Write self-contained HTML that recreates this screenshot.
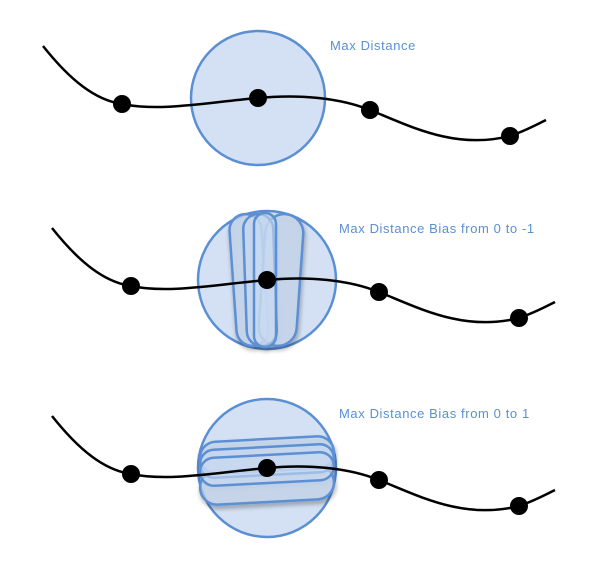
<!DOCTYPE html>
<html><head><style>
html,body{margin:0;padding:0;background:#fff;}
svg{display:block}
text{font-family:"Liberation Sans",sans-serif;font-size:13px;letter-spacing:0.6px;fill:#5b8fd4}
</style></head><body>
<svg width="604" height="567" viewBox="0 0 604 567">
<defs>
<filter id="sh" x="-30%" y="-30%" width="160%" height="160%"><feDropShadow dx="1" dy="3" stdDeviation="2" flood-color="#000" flood-opacity="0.35"/></filter>
<g id="curve">
<path d="M43,46 C70,80 95,100 122,104 C160,112 210,102 258,98 C300,94 340,98 370,110 C410,126 455,150 510,136 C525,131 536,125 546,120" fill="none" stroke="#000" stroke-width="2.5"/>
<circle cx="122" cy="104" r="9"/><circle cx="370" cy="110" r="9"/><circle cx="510" cy="136" r="9"/>
</g>
</defs>
<!-- top -->
<circle cx="258" cy="98" r="67" fill="#d4e1f4" stroke="#5b8fd4" stroke-width="2.5"/>
<use href="#curve"/>
<circle cx="258" cy="98" r="9"/>
<text x="330" y="50">Max Distance</text>

<!-- middle -->
<circle cx="267" cy="280" r="69" fill="#d4e1f4" stroke="#5b8fd4" stroke-width="2.5"/>
<g fill="#c9daf1" fill-opacity="0.6" stroke="#5b8fd4" stroke-width="2.5" filter="url(#sh)">
<rect x="233" y="214" width="32" height="132" rx="16" transform="rotate(-4 249 280)"/>
<rect x="262" y="214" width="38" height="132" rx="19" transform="rotate(4 281 280)"/>
<rect x="245" y="214" width="30" height="132" rx="15" transform="rotate(-2 260 280)"/>
<rect x="254" y="213" width="22" height="134" rx="11"/>
</g>
<use href="#curve" transform="translate(9,182)"/>
<circle cx="267" cy="280" r="9"/>
<text x="339" y="233">Max Distance Bias from 0 to -1</text>

<!-- bottom -->
<circle cx="267" cy="468" r="69" fill="#d4e1f4" stroke="#5b8fd4" stroke-width="2.5"/>
<g fill="#c9daf1" fill-opacity="0.6" stroke="#5b8fd4" stroke-width="2.5" filter="url(#sh)">
<rect x="200" y="468" width="134" height="34" rx="17" transform="rotate(-3 267 485)"/>
<rect x="200" y="439" width="134" height="32" rx="16" transform="rotate(-3 267 455)"/>
<rect x="200" y="447" width="134" height="28" rx="14" transform="rotate(-3 267 461)"/>
<rect x="200" y="455" width="134" height="28" rx="14" transform="rotate(-3 267 469)"/>
</g>
<use href="#curve" transform="translate(9,370)"/>
<circle cx="267" cy="468" r="9"/>
<text x="339" y="418">Max Distance Bias from 0 to 1</text>
</svg>
</body></html>
